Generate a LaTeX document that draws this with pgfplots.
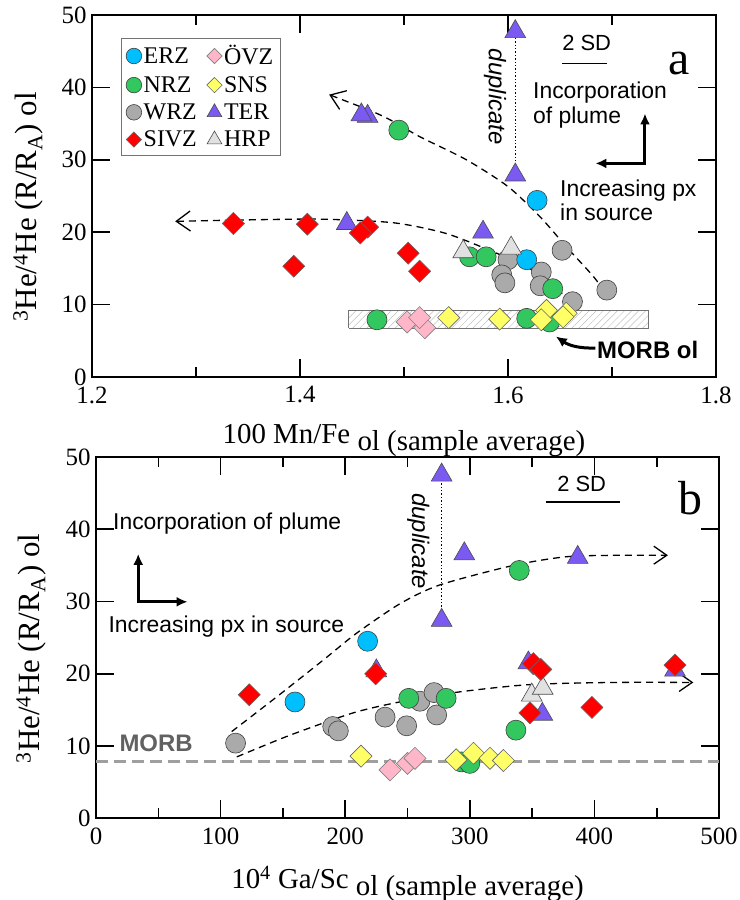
\documentclass[border=0pt]{standalone}
\usepackage{fontspec}
\setmainfont{Liberation Serif}
\setsansfont{Liberation Sans}
\usepackage{pgfplots}
\pgfplotsset{compat=1.18}
\usetikzlibrary{arrows.meta,patterns.meta}

\definecolor{cERZ}{RGB}{0,191,255}
\definecolor{cNRZ}{RGB}{50,200,95}
\definecolor{cWRZ}{RGB}{170,170,170}
\definecolor{cSIVZ}{RGB}{255,0,0}
\definecolor{cOVZ}{RGB}{255,182,200}
\definecolor{cSNS}{RGB}{255,255,102}
\definecolor{cTER}{RGB}{122,90,240}
\definecolor{cHRP}{RGB}{225,225,225}

\pgfplotsset{
 erz/.style={only marks, mark=*, mark size=10bp, mark options={draw=black!75, line width=0.6bp, fill=cERZ}},
 nrz/.style={only marks, mark=*, mark size=10bp, mark options={draw=black!75, line width=0.6bp, fill=cNRZ}},
 wrz/.style={only marks, mark=*, mark size=10bp, mark options={draw=black!75, line width=0.6bp, fill=cWRZ}},
 sivz/.style={only marks, mark=square*, mark size=7.8bp, mark options={rotate=45, draw=black!60, line width=0.6bp, fill=cSIVZ}},
 ovz/.style={only marks, mark=square*, mark size=7.8bp, mark options={rotate=45, draw=black!50, line width=0.6bp, fill=cOVZ}},
 sns/.style={only marks, mark=square*, mark size=7.8bp, mark options={rotate=45, draw=black!60, line width=0.6bp, fill=cSNS}},
 ter/.style={only marks, mark=triangle*, mark size=12bp, mark options={draw=black!70, line width=0.6bp, fill=cTER}},
 hrp/.style={only marks, mark=triangle*, mark size=12bp, mark options={draw=black!70, line width=0.6bp, fill=cHRP}},
 curve/.style={smooth, tension=0.45, line width=1.3bp, dash pattern=on 7bp off 5bp, black},
 base/.style={scale only axis, clip=false,
   axis line style={line width=2.2bp},
   major tick length=18bp, minor tick length=10bp,
   tick style={line width=1.6bp, black}, tick align=inside,
   ymin=0, ymax=50, ytick={0,10,...,50},
   /pgf/number format/assume math mode=true,
   ticklabel style={font=\rmfamily\fontsize{25}{25}\selectfont},
   xticklabel style={yshift=-6bp},
   yticklabel style={xshift=-2bp},
   label style={font=\rmfamily\fontsize{29}{29}\selectfont},
   ylabel style={font=\rmfamily\fontsize{31}{31}\selectfont}},
}
\newcommand{\sfann}{\sffamily\fontsize{23}{25}\selectfont}

\begin{document}
\begin{tikzpicture}
\path[use as bounding box] (0,0) rectangle (740bp,900bp);

% ---------------- panel a ----------------
\begin{axis}[base, at={(92bp,523bp)}, anchor=south west, width=624bp, height=362bp,
  xmin=1.2, xmax=1.8, xtick={1.2,1.4,1.6,1.8}, minor xtick={1.3,1.5,1.7},
  xticklabels={1.2,1.4,1.6,1.8},
  xlabel={100 Mn/Fe \raisebox{-7bp}{ol (sample average)}},
  xlabel style={at={(axis description cs:0.5,0)}, anchor=base, yshift=-67bp},
  ylabel={\textsuperscript{3}He/\textsuperscript{4}He (R/R\textsubscript{A}) ol},
  ylabel style={at={(axis description cs:-0.102,0.47)}, anchor=center},
  legend columns=2,
  legend style={at={(rel axis cs:0.046,0.936)}, anchor=north west, draw=black!55, line width=0.8bp,
    font=\rmfamily\fontsize{24}{24}\selectfont, nodes={inner sep=2bp}, row sep=6bp,
    inner xsep=5bp, inner ysep=5bp, /tikz/column 2/.style={column sep=8bp}},
  legend cell align=left]

\addlegendimage{erz, mark size=7.8bp}\addlegendentry{ERZ}
\addlegendimage{ovz, mark size=5.4bp}\addlegendentry{ÖVZ}
\addlegendimage{nrz, mark size=7.8bp}\addlegendentry{NRZ}
\addlegendimage{sns, mark size=5.4bp}\addlegendentry{SNS}
\addlegendimage{wrz, mark size=7.8bp}\addlegendentry{WRZ}
\addlegendimage{ter, mark size=8.5bp}\addlegendentry{TER}
\addlegendimage{sivz, mark size=5.4bp}\addlegendentry{SIVZ}
\addlegendimage{hrp, mark size=8.5bp}\addlegendentry{HRP}

% MORB box
\addplot[forget plot, draw=black!55, line width=0.8bp, pattern={Lines[angle=45,distance=5bp,line width=0.5bp]}, pattern color=black!25]
 coordinates {(1.447,6.7) (1.735,6.7) (1.735,9.25) (1.447,9.25) (1.447,6.7)};

% duplicate dotted line
\addplot[forget plot, dotted, line width=1.4bp] coordinates {(1.607,27.9) (1.607,47.7)};
% 2 SD bar
\addplot[forget plot, line width=1.4bp] coordinates {(1.652,43.3) (1.695,43.3)};

\addplot[forget plot, wrz] coordinates {(1.600,16.2) (1.652,17.5) (1.594,14.1) (1.597,13.0) (1.632,14.5) (1.631,12.6) (1.662,10.4) (1.695,12.0)};
\addplot[forget plot, nrz] coordinates {(1.495,34.1) (1.563,16.6) (1.579,16.6) (1.643,12.2) (1.474,7.9) (1.618,8.1) (1.640,7.6)};
\addplot[forget plot, erz] coordinates {(1.628,24.4) (1.618,16.2)};
\addplot[forget plot, ter] coordinates {(1.607,47.7) (1.607,27.9) (1.465,36.0) (1.459,36.2) (1.445,21.2) (1.576,20.0)};
\addplot[forget plot, hrp] coordinates {(1.557,17.3) (1.603,17.8)};
\addplot[forget plot, sivz] coordinates {(1.336,21.2) (1.394,15.3) (1.407,21.1) (1.465,20.7) (1.458,19.9) (1.504,17.1) (1.515,14.6)};
\addplot[forget plot, ovz] coordinates {(1.503,7.6) (1.52,6.8) (1.515,8.2)};
\addplot[forget plot, sns] coordinates {(1.543,8.2) (1.592,8.0) (1.637,9.2) (1.632,7.9) (1.656,8.8) (1.653,8.3)};

% trend curves
\addplot[forget plot, curve, {Straight Barb[length=14bp,width=20bp,line width=1.3bp]}-]
 coordinates {(1.428,39.0) (1.480,36.0) (1.515,33.2) (1.560,30.0) (1.600,26.3) (1.631,22.1) (1.656,18.0) (1.682,13.9) (1.697,11.0)};
\addplot[forget plot, curve, {Straight Barb[length=14bp,width=20bp,line width=1.3bp]}-]
 coordinates {(1.28,21.5) (1.35,21.7) (1.42,21.8) (1.49,21.3) (1.541,19.8) (1.589,17.1) (1.608,15.9) (1.634,13.9) (1.652,11.5)};

\node[rotate=-90, font=\sffamily\itshape\fontsize{24}{24}\selectfont] at (axis cs:1.5875,38.7) {duplicate};
\node[font=\sffamily\fontsize{22}{22}\selectfont] at (axis cs:1.6756,46.2) {2 SD};
\node[font=\rmfamily\fontsize{48}{48}\selectfont] at (axis cs:1.765,43.3) {a};
\node[anchor=west, inner sep=0pt, align=left, font=\sfann] at (axis cs:1.624,37.6) {Incorporation\\of plume};
\node[anchor=west, inner sep=0pt, align=left, font=\sfann] at (axis cs:1.650,24.4) {Increasing px\\in source};
\draw[line width=3bp, line join=miter, {Latex[length=11bp,width=10bp]}-{Latex[length=11bp,width=10bp]}]
 (axis cs:1.7317,36.4) -- (axis cs:1.7317,29.5) -- (axis cs:1.684,29.5);
\node[anchor=west, inner sep=0pt, font=\sffamily\bfseries\fontsize{24}{24}\selectfont] at (axis cs:1.6856,3.73) {MORB ol};
\draw[line width=3bp, -{Latex[length=11bp,width=10bp]}] (axis cs:1.684,4.0) to[bend left=18] (axis cs:1.646,5.6);
\end{axis}

% ---------------- panel b ----------------
\begin{axis}[base, at={(96bp,81.7bp)}, anchor=south west, width=623bp, height=361.3bp,
  xmin=0, xmax=500, xtick={0,100,...,500}, minor xtick={50,150,...,450},
  xlabel={10\textsuperscript{4} Ga/Sc \raisebox{-7bp}{ol (sample average)}},
  xlabel style={at={(axis description cs:0.5,0)}, anchor=base, yshift=-70bp},
  ylabel={\textsuperscript{3}He/\textsuperscript{4}He (R/R\textsubscript{A}) ol},
  ylabel style={at={(axis description cs:-0.104,0.47)}, anchor=center}]

% MORB line
\addplot[gray!75, line width=3.5bp, dash pattern=on 12bp off 6bp] coordinates {(0,7.83) (500,7.83)};
\addplot[dotted, line width=1.4bp] coordinates {(277.4,27.4) (277.4,47.5)};
\addplot[line width=1.4bp] coordinates {(361,43.8) (420.5,43.8)};

\addplot[ter] coordinates {(225,20.4) (347,21.5) (358.2,14.4) (464.7,20.5)};
\addplot[wrz] coordinates {(112,10.4) (190,12.7) (194.5,12.1) (232,14.0) (249.3,12.8) (260,16.2) (271.3,17.4) (273.4,14.3)};
\addplot[nrz] coordinates {(339.7,34.3) (251,16.6) (281,16.6) (293.4,7.8) (300,7.6) (337,12.2)};
\addplot[erz] coordinates {(218,24.5) (159.7,16.1)};
\addplot[ter] coordinates {(277.4,47.5) (277.4,27.4) (295.6,36.6) (386.6,36.1)};
\addplot[hrp] coordinates {(349.7,17.05) (358.5,18.0)};
\addplot[sivz] coordinates {(123,17.1) (224.5,20.0) (348.3,14.6) (351,21.4) (357,20.6) (398,15.35) (464.7,21.2)};
\addplot[ovz] coordinates {(236,6.7) (250,7.6) (256,8.3)};
\addplot[sns] coordinates {(212.7,8.6) (289,8.1) (303,9.0) (316.2,8.3) (327,8.0)};

\addplot[curve, -{Straight Barb[length=13bp,width=18bp,line width=1.3bp]}]
 coordinates {(108.9,12.0) (145,16.8) (182.4,21.9) (209,25.6) (244,29.7) (276,32.3) (335,35.0) (377.7,36.2) (420,36.4) (459,36.4)};
\addplot[curve, -{Straight Barb[length=13bp,width=18bp,line width=1.3bp]}]
 coordinates {(113,8.5) (155.7,11.5) (206.6,14.6) (246.6,16.2) (292,17.5) (348,18.5) (415,18.8) (479.4,18.8)};

\node[rotate=-90, font=\sffamily\itshape\fontsize{24}{24}\selectfont] at (axis cs:258.7,38.35) {duplicate};
\node[font=\sffamily\fontsize{22}{22}\selectfont] at (axis cs:389.8,46.3) {2 SD};
\node[font=\rmfamily\fontsize{48}{48}\selectfont] at (axis cs:476.7,44.3) {b};
\node[anchor=west, inner sep=0pt, font=\sfann] at (axis cs:13.6,40.8) {Incorporation of plume};
\node[anchor=west, inner sep=0pt, font=\sfann] at (axis cs:9.9,26.5) {Increasing px in source};
\draw[line width=3bp, line join=miter, {Latex[length=11bp,width=10bp]}-{Latex[length=11bp,width=10bp]}]
 (axis cs:33.9,36.6) -- (axis cs:33.9,29.96) -- (axis cs:73.5,29.96);
\node[anchor=west, inner sep=0pt, text=black!62, font=\sffamily\bfseries\fontsize{24}{24}\selectfont] at (axis cs:18.7,10.4) {MORB};
\end{axis}
\end{tikzpicture}
\end{document}
